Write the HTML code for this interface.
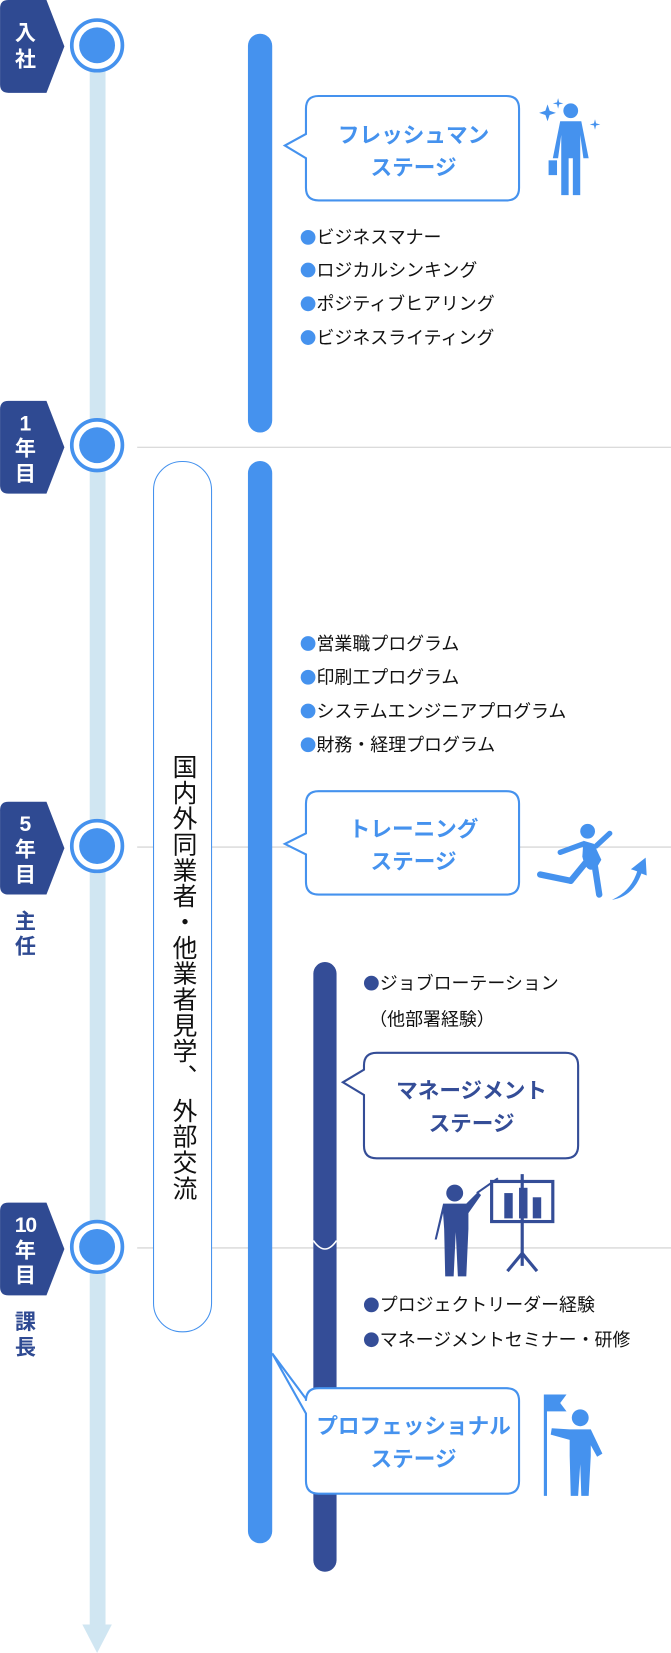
<!DOCTYPE html>
<html><head><meta charset="utf-8"><style>
html,body{margin:0;padding:0;background:#fff;}
svg{display:block;}
text{font-family:"Liberation Sans","Noto Sans CJK JP",sans-serif;}
</style></head><body>
<svg width="671" height="1653" viewBox="0 0 636 1567" xmlns="http://www.w3.org/2000/svg">
<g stroke="#cfcfcf" stroke-width="1">
<line x1="130" y1="424" x2="636" y2="424"/>
<line x1="130" y1="803" x2="636" y2="803"/>
<line x1="130" y1="1183" x2="636" y2="1183"/>
</g>
<rect x="85" y="43" width="15" height="1500" fill="#d0e6f2"/>
<polygon points="78,1540 106,1540 92,1567" fill="#d0e6f2"/>
<g fill="#fff" stroke="#4592ee" stroke-width="3.5">
<circle cx="92" cy="43" r="24"/><circle cx="92" cy="422" r="24"/><circle cx="92" cy="802" r="24"/><circle cx="92" cy="1182" r="24"/>
</g>
<g fill="#4592ee"><circle cx="92" cy="43" r="17"/><circle cx="92" cy="422" r="17"/><circle cx="92" cy="802" r="17"/><circle cx="92" cy="1182" r="17"/></g>
<g fill="#2f4a92">
<path d="M0 8 Q0 0 8 0 H44 L61 44 L44 88 H8 Q0 88 0 80 Z"/>
<path d="M0 388 Q0 380 8 380 H44 L61 424 L44 468 H8 Q0 468 0 460 Z"/>
<path d="M0 768 Q0 760 8 760 H44 L61 804 L44 848 H8 Q0 848 0 840 Z"/>
<path d="M0 1148 Q0 1140 8 1140 H44 L61 1184 L44 1228 H8 Q0 1228 0 1220 Z"/>
</g>
<g fill="#fff" font-weight="bold" font-size="20" text-anchor="middle">
<text x="24" y="38">入</text><text x="24" y="63">社</text>
<text x="24" y="408">1</text><text x="24" y="432">年</text><text x="24" y="456">目</text>
<text x="24" y="788">5</text><text x="24" y="812">年</text><text x="24" y="836">目</text>
<text x="24" y="1168" letter-spacing="-1">10</text><text x="24" y="1192">年</text><text x="24" y="1216">目</text>
</g>
<g fill="#2f4a92" font-weight="bold" font-size="20" text-anchor="middle">
<text x="24" y="880">主</text><text x="24" y="904">任</text>
<text x="24" y="1260">課</text><text x="24" y="1284">長</text>
</g>
<rect x="145.5" y="437.5" width="55" height="825" rx="27" fill="#fff" stroke="#4592ee" stroke-width="1"/>
<text font-size="23.5" fill="#111" x="173" y="715" style="writing-mode:vertical-rl" letter-spacing="1">国内外同業者・他業者見学、 外部交流</text>
<rect x="235" y="32" width="23" height="378" rx="11.5" fill="#4592ee"/>
<rect x="235" y="437" width="23" height="1026" rx="11.5" fill="#4592ee"/>
<rect x="297" y="912" width="22" height="578" rx="11" fill="#344d97"/>
<path d="M297 1176 Q308 1192 319 1176" fill="none" stroke="#fff" stroke-width="1.5"/>
<g fill="#fff" stroke="#4592ee" stroke-width="2">
<path d="M302 91 H480 Q492 91 492 103 V178 Q492 190 480 190 H302 Q290 190 290 178 V150 L270 138 L290 127 V103 Q290 91 302 91 Z"/>
<path d="M302 750 H480 Q492 750 492 762 V836 Q492 848 480 848 H302 Q290 848 290 836 V810 L270 800 L290 790 V762 Q290 750 302 750 Z"/>
<path d="M302 1316 H480 Q492 1316 492 1328 V1404 Q492 1416 480 1416 H302 Q290 1416 290 1404 V1340 L258 1283 L290 1326 V1328 Q290 1316 302 1316 Z"/>
</g>
<path d="M357 998 H536 Q548 998 548 1010 V1086 Q548 1098 536 1098 H357 Q345 1098 345 1086 V1038 L325 1026 L345 1014 V1010 Q345 998 357 998 Z" fill="#fff" stroke="#344d97" stroke-width="2"/>
<g font-weight="bold" font-size="20.5" text-anchor="middle" fill="#4592ee">
<text x="392" y="135">フレッシュマン</text><text x="392" y="166">ステージ</text>
<text x="392" y="793">トレーニング</text><text x="392" y="824">ステージ</text>
<text x="392" y="1359">プロフェッショナル</text><text x="392" y="1390">ステージ</text>
<text x="447" y="1041" fill="#344d97">マネージメント</text><text x="447" y="1072" fill="#344d97">ステージ</text>
</g>
<g font-size="17" fill="#111">
<text x="300" y="231">ビジネスマナー</text><text x="300" y="262">ロジカルシンキング</text><text x="300" y="294">ポジティブヒアリング</text><text x="300" y="326">ビジネスライティング</text>
<text x="300" y="616">営業職プログラム</text><text x="300" y="648">印刷工プログラム</text><text x="300" y="680">システムエンジニアプログラム</text><text x="300" y="712">財務・経理プログラム</text>
<text x="360" y="938">ジョブローテーション</text><text x="350" y="972">（他部署経験）</text>
<text x="360" y="1243">プロジェクトリーダー経験</text><text x="360" y="1276">マネージメントセミナー・研修</text>
</g>
<g fill="#4592ee">
<circle cx="292" cy="225" r="7"/><circle cx="292" cy="256" r="7"/><circle cx="292" cy="288" r="7"/><circle cx="292" cy="320" r="7"/>
<circle cx="292" cy="610" r="7"/><circle cx="292" cy="642" r="7"/><circle cx="292" cy="674" r="7"/><circle cx="292" cy="706" r="7"/>
</g>
<g fill="#344d97"><circle cx="352" cy="932" r="7"/><circle cx="352" cy="1237" r="7"/><circle cx="352" cy="1270" r="7"/></g>
<g fill="#4592ee">
<circle cx="541" cy="105" r="7"/>
<path d="M531 115 H551 L558 150 H553 L550 128 V185 H543 V150 H539 V185 H532 V128 L529 150 H524 Z"/>
<rect x="520" y="152" width="8" height="14"/>
<path d="M517 105 l2 -6 l2 6 l6 2 l-6 2 l-2 6 l-2 -6 l-6 -2 Z"/>
<path d="M528 97 l1 -4 l1 4 l4 1 l-4 1 l-1 4 l-1 -4 l-4 -1 Z"/>
<path d="M563 117 l1 -4 l1 4 l4 1 l-4 1 l-1 4 l-1 -4 l-4 -1 Z"/>
</g>
<g fill="#4592ee" stroke="#4592ee" stroke-linecap="round">
<circle cx="557" cy="788" r="7" stroke="none"/>
<path d="M553 797 L563 800 L570 815 L566 822 Q556 830 552 812 Z" stroke="none"/>
<line x1="553" y1="800" x2="531" y2="808" stroke-width="5"/>
<line x1="565" y1="802" x2="578" y2="790" stroke-width="5"/>
<line x1="555" y1="818" x2="541" y2="835" stroke-width="6"/>
<line x1="541" y1="835" x2="512" y2="829" stroke-width="6"/>
<line x1="564" y1="822" x2="568" y2="848" stroke-width="6"/>
<path d="M580 853 Q598 845 604 826 L598 824 L612 813 L613 830 L608 828 Q600 850 580 853 Z" stroke="none"/>
</g>
<g fill="#344d97" stroke="#344d97">
<circle cx="431" cy="1131" r="8" stroke="none"/>
<path d="M420 1141 H442 L453 1130 L456 1133 L444 1150 V1165 L442 1210 H434 L432 1168 L430 1210 H422 L421 1165 L420 1150 L414 1175 H412 Z" stroke="none"/>
<rect x="466" y="1120" width="58" height="38" fill="#fff" stroke-width="3"/>
<rect x="478" y="1131" width="8" height="24" stroke="none"/><rect x="492" y="1126" width="8" height="29" stroke="none"/><rect x="505" y="1135" width="8" height="20" stroke="none"/>
<line x1="495" y1="1113" x2="495" y2="1200" stroke-width="3"/>
<line x1="495" y1="1188" x2="481" y2="1205" stroke-width="3"/><line x1="495" y1="1188" x2="509" y2="1205" stroke-width="3"/>
<line x1="452" y1="1131" x2="472" y2="1117" stroke-width="2"/>
</g>
<g fill="#4592ee" stroke="#4592ee">
<line x1="517" y1="1322" x2="517" y2="1418" stroke-width="3"/>
<path d="M517 1322 H537 L531 1330 L537 1338 H517 Z" stroke="none"/>
<circle cx="550" cy="1344" r="8" stroke="none"/>
<path d="M540 1355 H560 L571 1378 L566 1381 L560 1370 V1380 L558 1418 H551 L550 1388 L548 1418 H541 L540 1380 V1365 L522 1360 L523 1354 Z" stroke="none"/>
</g>
</svg>
</body></html>
